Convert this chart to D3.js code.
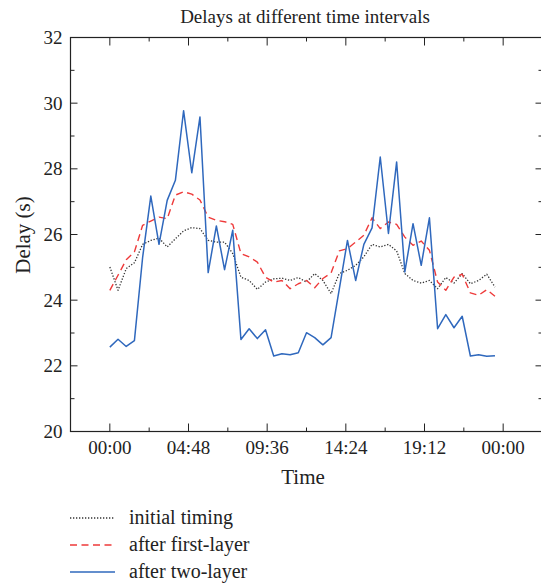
<!DOCTYPE html>
<html>
<head>
<meta charset="utf-8">
<style>
  body { margin: 0; background: #fff; }
  svg text { font-family: "Liberation Serif", "DejaVu Serif", serif; fill: #222; }
</style>
</head>
<body>
<svg id="chart" width="541" height="583"></svg>
<script src="https://d3js.org/d3.v7.min.js"></script>
<script>
// half-hourly samples over one day, x in fraction of a day
var initialTiming = [25.01, 24.30, 24.96, 25.14, 25.70, 25.82, 25.89, 25.62, 25.87, 26.11, 26.21, 26.18,
  25.82, 25.77, 25.77, 25.42, 24.70, 24.60, 24.33, 24.55, 24.65, 24.67, 24.60, 24.69,
  24.55, 24.81, 24.60, 24.20, 24.81, 24.91, 25.06, 25.32, 25.70, 25.62, 25.70, 25.50,
  24.81, 24.60, 24.52, 24.60, 24.35, 24.69, 24.52, 24.81, 24.50, 24.60, 24.79, 24.40];
var afterFirst = [24.30, 24.76, 25.23, 25.47, 26.28, 26.41, 26.53, 26.48, 27.20, 27.30, 27.23, 27.05,
  26.53, 26.43, 26.39, 26.31, 25.42, 25.32, 25.16, 24.70, 24.55, 24.60, 24.35, 24.50,
  24.60, 24.38, 24.66, 24.83, 25.50, 25.57, 25.77, 25.98, 26.51, 26.18, 26.38, 26.31,
  25.92, 25.67, 25.80, 25.52, 24.55, 24.30, 24.70, 24.79, 24.22, 24.15, 24.32, 24.12];
var afterTwo = [22.57, 22.81, 22.59, 22.77, 25.30, 27.17, 25.70, 27.04, 27.65, 29.77, 27.88, 29.58,
  24.84, 26.26, 24.93, 26.13, 22.80, 23.13, 22.83, 23.10, 22.30, 22.37, 22.34, 22.40,
  23.01, 22.86, 22.64, 22.86, 24.34, 25.82, 24.60, 25.70, 26.20, 28.36, 26.03, 28.21,
  24.86, 26.33, 25.06, 26.51, 23.13, 23.56, 23.16, 23.51, 22.30, 22.34, 22.29, 22.31];

var xTicks = [0, 0.2, 0.4, 0.6, 0.8, 1.0];
var xTickLabels = ["00:00", "04:48", "09:36", "14:24", "19:12", "00:00"];
var yTicks = [20, 22, 24, 26, 28, 30, 32];

var series = [
  {name: "initial timing", values: initialTiming, color: "#333", dash: "1.3,1.7", width: 1.3},
  {name: "after first-layer", values: afterFirst, color: "#ee3a3a", dash: "7,4.5", width: 1.4},
  {name: "after two-layer", values: afterTwo, color: "#2f68bd", dash: null, width: 1.5}
];

var svg = d3.select("#chart"),
    pl = 70.5, pr = 542.5, pt = 37.5, pb = 431.5;

var x = d3.scaleLinear().domain([-0.1, 1.1]).range([pl, pr]);
var y = d3.scaleLinear().domain([20, 32]).range([pb, pt]);

var line = d3.line()
    .x(function(d, i) { return x(i / 48); })
    .y(function(d) { return y(d); });

var g = svg.append("g");

// frame
g.append("rect")
    .attr("x", pl).attr("y", pt)
    .attr("width", pr - pl).attr("height", pb - pt)
    .attr("fill", "none").attr("stroke", "#222").attr("stroke-width", 1.2);

var xMinor = d3.range(0.1, 1.0, 0.2);
var yMinor = d3.range(21, 32, 2);

function tickLines(vals, len, horiz) {
  vals.forEach(function(v) {
    if (horiz) {
      g.append("line").attr("x1", x(v)).attr("x2", x(v))
        .attr("y1", pb).attr("y2", pb - len).attr("stroke", "#222");
      g.append("line").attr("x1", x(v)).attr("x2", x(v))
        .attr("y1", pt).attr("y2", pt + len).attr("stroke", "#222");
    } else {
      g.append("line").attr("y1", y(v)).attr("y2", y(v))
        .attr("x1", pl).attr("x2", pl + len).attr("stroke", "#222");
      g.append("line").attr("y1", y(v)).attr("y2", y(v))
        .attr("x1", pr).attr("x2", pr - len).attr("stroke", "#222");
    }
  });
}
tickLines(xTicks, 8, true);
tickLines(xMinor, 4, true);
tickLines(yTicks, 7, false);
tickLines(yMinor, 4, false);

// tick labels
g.selectAll(".xl").data(xTicks).enter().append("text")
    .attr("x", function(d) { return x(d); })
    .attr("y", pb + 22)
    .attr("text-anchor", "middle")
    .attr("font-size", 19)
    .text(function(d, i) { return xTickLabels[i]; });

g.selectAll(".yl").data(yTicks).enter().append("text")
    .attr("x", pl - 8)
    .attr("y", function(d) { return y(d) + 6.5; })
    .attr("text-anchor", "end")
    .attr("font-size", 19)
    .text(function(d) { return d; });

// lines
series.forEach(function(s) {
  g.append("path")
      .datum(s.values)
      .attr("fill", "none")
      .attr("stroke", s.color)
      .attr("stroke-width", s.width)
      .attr("stroke-dasharray", s.dash)
      .attr("stroke-linejoin", "round")
      .attr("d", line);
});

// titles
svg.append("text")
    .attr("x", 305).attr("y", 23)
    .attr("text-anchor", "middle")
    .attr("font-size", 19)
    .text("Delays at different time intervals");

svg.append("text")
    .attr("x", 303).attr("y", 484)
    .attr("text-anchor", "middle")
    .attr("font-size", 21)
    .text("Time");

svg.append("text")
    .attr("transform", "translate(30,235) rotate(-90)")
    .attr("text-anchor", "middle")
    .attr("font-size", 21)
    .text("Delay (s)");

// legend
var leg = svg.append("g");
series.forEach(function(s, i) {
  var ly = 518 + i * 27;
  leg.append("line")
      .attr("x1", 70).attr("x2", 115)
      .attr("y1", ly).attr("y2", ly)
      .attr("stroke", s.color)
      .attr("stroke-width", s.width)
      .attr("stroke-dasharray", s.dash);
  leg.append("text")
      .attr("x", 129).attr("y", ly + 5.5)
      .attr("font-size", 20)
      .text(s.name);
});
</script>
</body>
</html>
